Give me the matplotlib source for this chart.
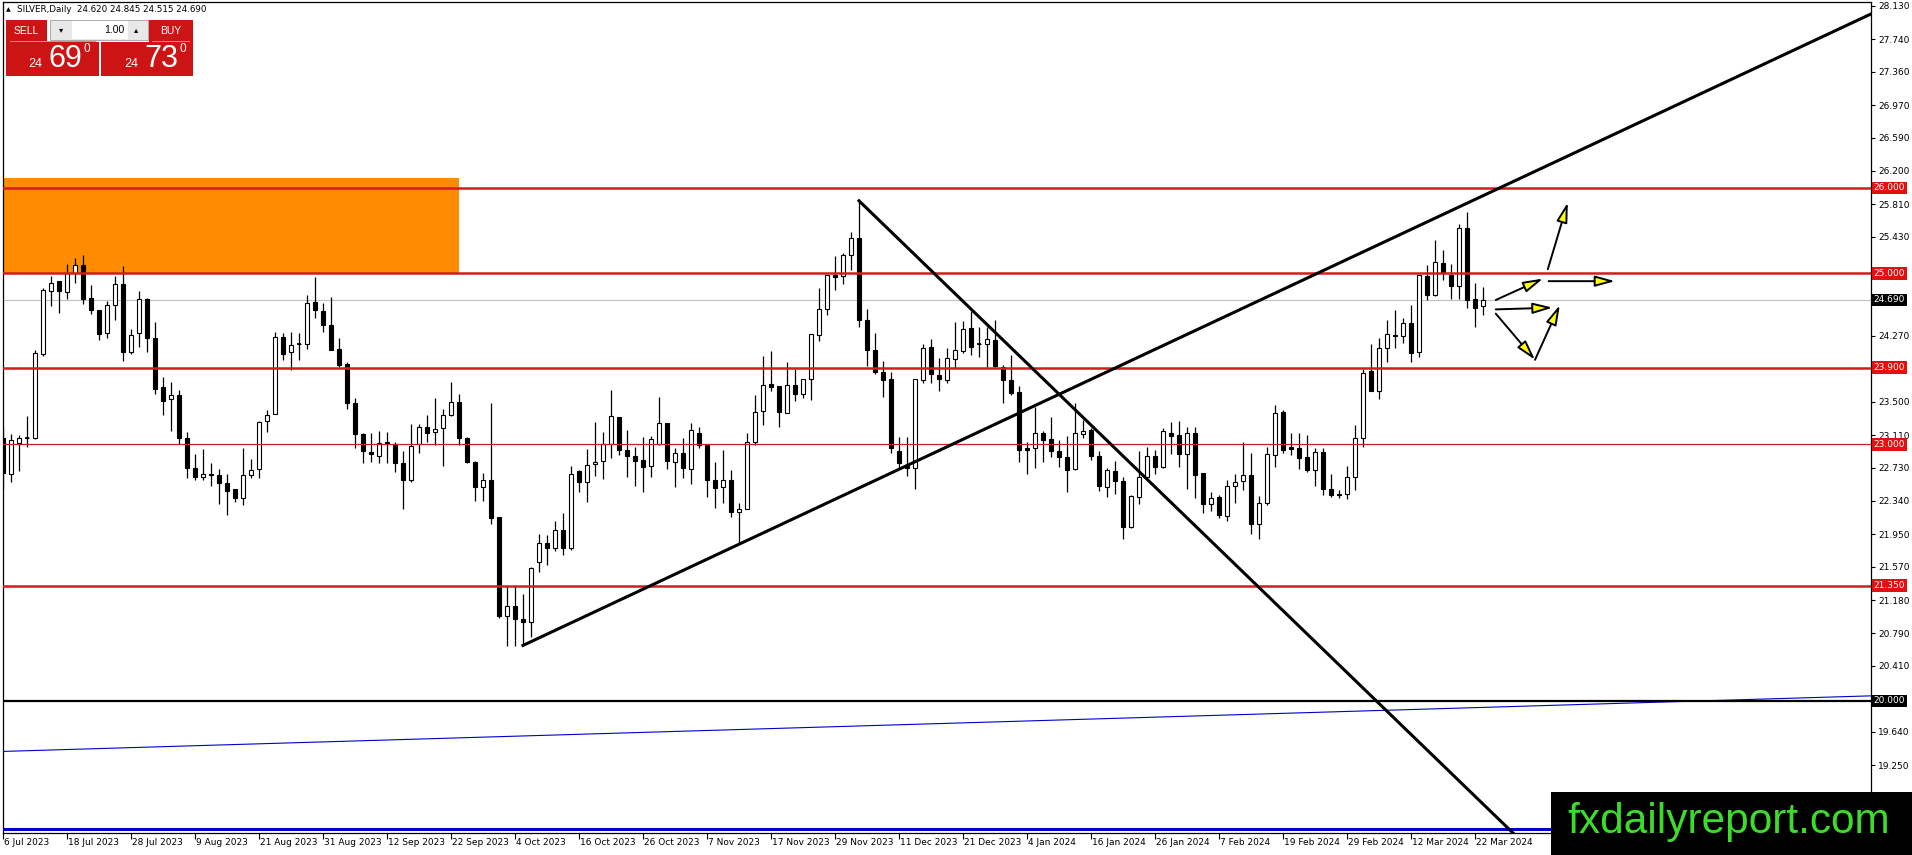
import numpy as np
import matplotlib.pyplot as plt
from matplotlib.patches import Rectangle
from matplotlib.transforms import blended_transform_factory

plt.rcParams['font.family'] = ['DejaVu Sans']

# daily candles from 6 Jul 2023 to 25 Mar 2024
opens = [23.07, 22.66, 23.02, 23.08, 23.07, 24.06, 24.80, 24.91, 24.78, 25.01,
         25.10, 24.71, 24.57, 24.30, 24.63, 24.88, 24.08, 24.30, 24.70, 24.25,
         23.67, 23.53, 23.58, 23.07, 22.72, 22.62, 22.65, 22.64, 22.55, 22.48,
         22.37, 22.64, 22.71, 23.27, 23.36, 24.26, 24.08, 24.17, 24.18, 24.67,
         24.56, 24.40, 24.12, 23.94, 23.49, 23.12, 22.91, 22.87, 23.03, 23.01,
         22.78, 22.59, 23.01, 23.21, 23.15, 23.19, 23.35, 23.50, 23.08, 22.79,
         22.50, 22.58, 22.15, 20.99, 21.11, 20.96, 20.92, 21.62, 21.85, 21.79,
         22.00, 21.79, 22.69, 22.56, 22.77, 22.81, 23.00, 23.32, 22.94, 22.87,
         22.82, 22.75, 23.01, 23.25, 22.80, 22.90, 22.71, 23.13, 22.99, 22.58,
         22.50, 22.58, 22.21, 22.25, 23.03, 23.39, 23.71, 23.68, 23.37, 23.70,
         23.59, 23.76, 24.28, 24.59, 24.98, 24.97, 25.22, 25.42, 24.46, 24.11,
         23.85, 23.76, 22.92, 22.76, 22.72, 23.75, 24.14, 23.81, 23.75, 24.00,
         24.09, 24.36, 24.18, 24.17, 24.22, 23.91, 23.75, 23.61, 22.96, 22.96,
         23.13, 23.06, 22.92, 22.85, 22.71, 23.12, 23.17, 22.87, 22.50, 22.69,
         22.57, 22.04, 22.39, 22.62, 22.87, 22.74, 23.14, 23.11, 22.89, 23.14,
         22.67, 22.30, 22.38, 22.16, 22.52, 22.57, 22.64, 22.07, 22.31, 22.88,
         23.38, 22.97, 22.96, 22.85, 22.70, 22.91, 22.48, 22.42, 22.42, 22.62,
         23.07, 23.86, 23.62, 24.13, 24.28, 24.27, 24.42, 24.08, 24.97, 24.75,
         25.12, 24.98, 24.85, 25.53, 24.70, 24.62]
highs = [23.21, 23.12, 23.11, 23.33, 24.10, 24.83, 24.97, 24.91, 25.11, 25.18,
         25.22, 24.87, 24.57, 24.68, 24.97, 25.09, 24.35, 24.80, 24.71, 24.43,
         23.79, 23.73, 23.64, 23.15, 22.89, 22.95, 22.78, 22.71, 22.65, 22.48,
         22.96, 22.83, 23.28, 23.40, 24.31, 24.30, 24.32, 24.30, 24.75, 24.96,
         24.65, 24.72, 24.24, 23.96, 23.54, 23.13, 23.13, 23.16, 23.15, 23.03,
         22.92, 23.24, 23.24, 23.35, 23.54, 23.42, 23.73, 23.59, 23.09, 22.81,
         22.67, 23.49, 22.15, 21.34, 21.34, 21.25, 21.57, 21.95, 21.94, 22.10,
         22.20, 22.75, 22.70, 22.95, 23.26, 23.15, 23.64, 23.32, 23.17, 22.97,
         23.09, 23.10, 23.55, 23.25, 22.96, 23.07, 23.25, 23.20, 22.99, 22.80,
         22.94, 22.70, 22.32, 23.13, 23.58, 24.03, 24.09, 23.68, 23.96, 23.88,
         23.76, 24.29, 24.83, 24.98, 25.21, 25.24, 25.48, 25.85, 24.59, 24.30,
         23.98, 23.85, 23.09, 23.09, 23.76, 24.18, 24.23, 24.01, 24.13, 24.43,
         24.44, 24.56, 24.37, 24.37, 24.45, 23.93, 24.05, 23.68, 23.03, 23.44,
         23.16, 23.32, 23.05, 23.10, 23.48, 23.29, 23.19, 22.92, 22.72, 22.81,
         22.62, 22.41, 22.92, 22.97, 22.94, 23.19, 23.26, 23.27, 23.20, 23.20,
         22.67, 22.44, 22.41, 22.58, 22.66, 23.03, 22.90, 22.40, 22.97, 23.46,
         23.40, 23.14, 23.14, 23.11, 22.96, 22.96, 22.66, 22.47, 22.75, 23.23,
         23.88, 24.18, 24.24, 24.46, 24.57, 24.48, 24.63, 24.98, 25.10, 25.39,
         25.28, 25.11, 25.58, 25.72, 24.89, 24.845]
lows = [22.48, 22.56, 22.69, 22.97, 23.06, 24.04, 24.62, 24.54, 24.70, 24.89,
        24.64, 24.53, 24.22, 24.24, 24.46, 23.98, 24.06, 24.14, 24.08, 23.59,
        23.35, 23.16, 23.01, 22.61, 22.58, 22.58, 22.52, 22.30, 22.17, 22.33,
        22.29, 22.61, 22.61, 23.15, 23.36, 23.99, 23.87, 23.99, 24.12, 24.48,
        24.32, 24.10, 23.91, 23.42, 22.96, 22.78, 22.80, 22.78, 22.78, 22.68,
        22.24, 22.56, 22.90, 23.03, 22.99, 22.75, 23.33, 22.99, 22.78, 22.34,
        22.34, 22.07, 20.97, 20.64, 20.64, 20.65, 20.75, 21.51, 21.59, 21.75,
        21.71, 21.77, 22.44, 22.33, 22.63, 22.60, 22.84, 22.88, 22.62, 22.51,
        22.45, 22.62, 22.99, 22.71, 22.50, 22.61, 22.54, 22.96, 22.39, 22.26,
        22.32, 22.15, 21.84, 22.25, 22.99, 23.23, 23.62, 23.20, 23.37, 23.51,
        23.54, 23.52, 24.21, 24.51, 24.81, 24.88, 25.04, 24.37, 23.92, 23.83,
        23.55, 22.90, 22.73, 22.63, 22.48, 23.72, 23.72, 23.62, 23.72, 23.89,
        24.07, 24.05, 24.02, 23.91, 23.91, 23.49, 23.58, 22.80, 22.65, 22.73,
        22.79, 22.85, 22.74, 22.44, 22.70, 23.07, 22.82, 22.46, 22.38, 22.42,
        21.89, 22.02, 22.30, 22.59, 22.66, 22.72, 22.89, 22.74, 22.48, 22.37,
        22.20, 22.22, 22.14, 22.10, 22.32, 22.47, 21.95, 21.89, 22.29, 22.74,
        22.90, 22.88, 22.71, 22.68, 22.51, 22.41, 22.39, 22.37, 22.36, 22.47,
        22.97, 23.62, 23.53, 23.96, 24.13, 24.19, 23.97, 24.02, 24.69, 24.74,
        24.92, 24.70, 24.70, 24.60, 24.37, 24.515]
closes = [22.67, 23.05, 23.08, 23.08, 24.07, 24.81, 24.89, 24.79, 25.01, 25.10,
          24.70, 24.57, 24.29, 24.63, 24.88, 24.08, 24.28, 24.70, 24.24, 23.65,
          23.51, 23.58, 23.07, 22.72, 22.62, 22.65, 22.64, 22.55, 22.46, 22.37,
          22.64, 22.70, 23.26, 23.35, 24.26, 24.06, 24.16, 24.17, 24.65, 24.57,
          24.40, 24.11, 23.93, 23.49, 23.12, 22.92, 22.89, 23.02, 23.01, 22.78,
          22.59, 22.98, 23.21, 23.14, 23.18, 23.35, 23.50, 23.07, 22.79, 22.50,
          22.58, 22.14, 20.99, 21.11, 20.96, 20.92, 21.55, 21.85, 21.79, 22.00,
          21.79, 22.66, 22.56, 22.76, 22.80, 23.00, 23.33, 22.93, 22.87, 22.81,
          22.74, 23.06, 23.25, 22.81, 22.90, 22.72, 23.17, 22.99, 22.59, 22.49,
          22.59, 22.21, 22.25, 23.03, 23.38, 23.70, 23.67, 23.38, 23.70, 23.59,
          23.76, 24.29, 24.59, 24.98, 24.96, 25.22, 25.42, 24.45, 24.11, 23.85,
          23.75, 22.96, 22.78, 22.72, 23.76, 24.13, 23.82, 23.76, 24.01, 24.10,
          24.35, 24.14, 24.17, 24.23, 23.92, 23.75, 23.60, 22.93, 22.94, 23.13,
          23.05, 22.92, 22.85, 22.70, 23.13, 23.16, 22.87, 22.51, 22.70, 22.57,
          22.04, 22.40, 22.62, 22.87, 22.74, 23.16, 23.10, 22.89, 23.14, 22.64,
          22.30, 22.37, 22.17, 22.52, 22.56, 22.64, 22.07, 22.32, 22.89, 23.37,
          22.94, 22.95, 22.84, 22.70, 22.91, 22.48, 22.41, 22.41, 22.62, 23.08,
          23.84, 23.63, 24.13, 24.29, 24.27, 24.42, 24.07, 24.98, 24.75, 25.13,
          25.01, 24.85, 25.53, 24.69, 24.60, 24.69]

date_labels = ['6 Jul 2023', '18 Jul 2023', '28 Jul 2023', '9 Aug 2023', '21 Aug 2023',
               '31 Aug 2023', '12 Sep 2023', '22 Sep 2023', '4 Oct 2023', '16 Oct 2023',
               '26 Oct 2023', '7 Nov 2023', '17 Nov 2023', '29 Nov 2023', '11 Dec 2023',
               '21 Dec 2023', '4 Jan 2024', '16 Jan 2024', '26 Jan 2024', '7 Feb 2024',
               '19 Feb 2024', '29 Feb 2024', '12 Mar 2024', '22 Mar 2024']
price_ticks = [28.13, 27.74, 27.36, 26.97, 26.59, 26.20, 25.81, 25.43, 25.04, 24.65,
               24.27, 23.88, 23.50, 23.11, 22.73, 22.34, 21.95, 21.57, 21.18, 20.79,
               20.41, 20.02, 19.64, 19.25, 18.87]
# ticks whose labels sit under a level tag or the logo
hidden_ticks = [25.04, 24.65, 23.88, 20.02, 18.87]

red_levels = [26.0, 25.0, 23.9, 21.35]
thin_red_levels = [23.0]
black_level = 20.0
blue_level = 18.5
last_price = 24.69

zone_bars = [-2, 57]
zone_prices = [25.01, 26.12]

up_trend_x = [65, 233.5]
up_trend_y = [20.65, 28.035]
down_trend_x = [107, 188.75]
down_trend_y = [25.85, 18.456]
blue_trend_x = [0, 233.5]
blue_trend_y = [19.41, 20.06]

# forecast arrows: (start bar, start price, end bar, end price)
arrows = [(186.6, 24.69, 192.5, 24.94),
          (193.1, 25.05, 195.6, 25.83),
          (193.2, 24.91, 201.5, 24.91),
          (186.6, 24.58, 193.7, 24.60),
          (186.6, 24.53, 191.5, 23.99),
          (191.5, 23.99, 194.6, 24.63)]

W, H = 1912, 855
RED = '#d41c1c'

fig = plt.figure(figsize=(W / 100, H / 100), dpi=100)
ax = fig.add_axes([3 / W, (H - 833) / H, (1871 - 3) / W, (833 - 2) / H])

o = np.array(opens)
h = np.array(highs)
l = np.array(lows)
c = np.array(closes)
x = np.arange(len(o))

# candles
ax.vlines(x, l, h, colors='black', linewidth=0.9, zorder=2)
body_lo = np.minimum(o, c)
body_hi = np.maximum(o, c)
up = c >= o
ax.bar(x[up], (body_hi - body_lo)[up], bottom=body_lo[up], width=0.62,
       color='white', edgecolor='black', linewidth=0.8, zorder=3)
ax.bar(x[~up], (body_hi - body_lo)[~up], bottom=body_lo[~up], width=0.62,
       color='black', edgecolor='black', linewidth=0.8, zorder=3)
doji = (body_hi - body_lo) < 0.015
ax.hlines(c[doji], x[doji] - 0.31, x[doji] + 0.31, colors='black', linewidth=1.2, zorder=3)

# objects
ax.add_patch(Rectangle((zone_bars[0], zone_prices[0]), zone_bars[1] - zone_bars[0],
                       zone_prices[1] - zone_prices[0], color='#ff8c00', lw=0, zorder=1))
ax.axhline(last_price, color='#c0c0c0', lw=0.8, zorder=1.5)
for lv in red_levels:
    ax.axhline(lv, color=RED, lw=1.8, zorder=4)
for lv in thin_red_levels:
    ax.axhline(lv, color=RED, lw=0.9, zorder=4)
ax.axhline(blue_level, color='#0000cc', lw=2.2, zorder=4)
ax.plot(blue_trend_x, blue_trend_y, color='#0000cc', lw=0.8, zorder=4)
ax.axhline(black_level, color='black', lw=1.6, zorder=4)
ax.plot(up_trend_x, up_trend_y, color='black', lw=2.2, zorder=5)
ax.plot(down_trend_x, down_trend_y, color='black', lw=2.2, zorder=5)

for x0, y0, x1, y1 in arrows:
    ax.annotate('', xy=(x1, y1), xytext=(x0, y0),
                arrowprops=dict(arrowstyle='-|>,head_length=0.8,head_width=0.22',
                                mutation_scale=15, fc='#ffff00', ec='black', lw=1.4,
                                shrinkA=0, shrinkB=0), zorder=6)

ax.set_xlim(0, 233.5)
ax.set_ylim(18.456, 28.175)

# axes
ax.yaxis.tick_right()
ax.set_yticks(price_ticks)
ax.set_yticklabels(['' if v in hidden_ticks else f'{v:.3f}' for v in price_ticks])
ax.tick_params(axis='y', length=3, width=0.8, pad=2, labelsize=6.5)
label_bars = np.arange(0, len(o), 8)
ax.set_xticks(label_bars)
ax.set_xticklabels([])
ax.tick_params(axis='x', length=4, width=0.8)
for sp in ax.spines.values():
    sp.set_linewidth(0.9)

bt = blended_transform_factory(ax.transData, ax.transAxes)
for b, lab in zip(label_bars, date_labels):
    ax.text(b + 0.1, -0.006, lab, transform=bt, ha='left', va='top',
            fontsize=6.5, clip_on=False)

rt = blended_transform_factory(ax.transAxes, ax.transData)
for lv in red_levels + thin_red_levels:
    ax.text(1.0015, lv, f'{lv:.3f}', transform=rt, ha='left', va='center', fontsize=6.5,
            color='white', clip_on=False, zorder=10,
            bbox=dict(boxstyle='square,pad=0.18', fc='#e31010', ec='none'))
for lv in [last_price, black_level]:
    ax.text(1.0015, lv, f'{lv:.3f}', transform=rt, ha='left', va='center', fontsize=6.5,
            color='white', clip_on=False, zorder=10,
            bbox=dict(boxstyle='square,pad=0.18', fc='black', ec='none'))


def fig_rect(x0, y0, x1, y1, **kw):
    fig.patches.append(Rectangle((x0 / W, 1 - y1 / H), (x1 - x0) / W, (y1 - y0) / H,
                                 transform=fig.transFigure, **kw))


def fig_text(px, py, s, **kw):
    fig.text(px / W, 1 - py / H, s, **kw)


# header and trade panel
fig_text(6, 10, '\u25b2', fontsize=4.5, va='center')
fig_text(17, 10, 'SILVER,Daily  24.620 24.845 24.515 24.690', fontsize=6.3, va='center')

panel_red = '#cc1414'
fig_rect(6, 20, 47, 42, color=panel_red, lw=0)
fig_rect(149, 20, 193, 42, color=panel_red, lw=0)
fig_rect(6, 42, 99, 76, color=panel_red, lw=0)
fig_rect(101, 42, 193, 76, color=panel_red, lw=0)
fig_rect(10, 41, 96, 42, color='#f08080', lw=0)
fig_rect(152, 41, 190, 42, color='#f08080', lw=0)
fig_rect(50, 20, 148, 40, color='#e8e8e8', ec='#a0a0a0', lw=0.6)
fig_rect(72, 21, 128, 39, color='white', lw=0)
fig_text(26, 31, 'SELL', fontsize=7.5, color='white', ha='center', va='center',
         family='Liberation Sans')
fig_text(171, 31, 'BUY', fontsize=7.5, color='white', ha='center', va='center',
         family='Liberation Sans')
fig_text(61, 30, '\u25be', fontsize=6, ha='center', va='center')
fig_text(136, 30, '\u25b4', fontsize=6, ha='center', va='center')
fig_text(124, 30, '1.00', fontsize=7.5, ha='right', va='center', family='Liberation Sans')
for x0, big in [(28, '69'), (124, '73')]:
    fig_text(x0, 67, '24', fontsize=9, color='white', ha='left', va='baseline',
             family='Liberation Sans')
    fig_text(x0 + 20, 67, big, fontsize=22, color='white', ha='left', va='baseline',
             family='Liberation Sans')
    fig_text(x0 + 56, 52, '0', fontsize=8.5, color='white', ha='left', va='baseline',
             family='Liberation Sans')

# site logo
fig_rect(1551, 792, 1912, 855, color='black', lw=0)
fig_text(1729, 822, 'fxdailyreport.com', fontsize=30.5, color='#3ddc2a',
         ha='center', va='center', family='Liberation Sans')

fig.savefig('out.png', dpi=100)
